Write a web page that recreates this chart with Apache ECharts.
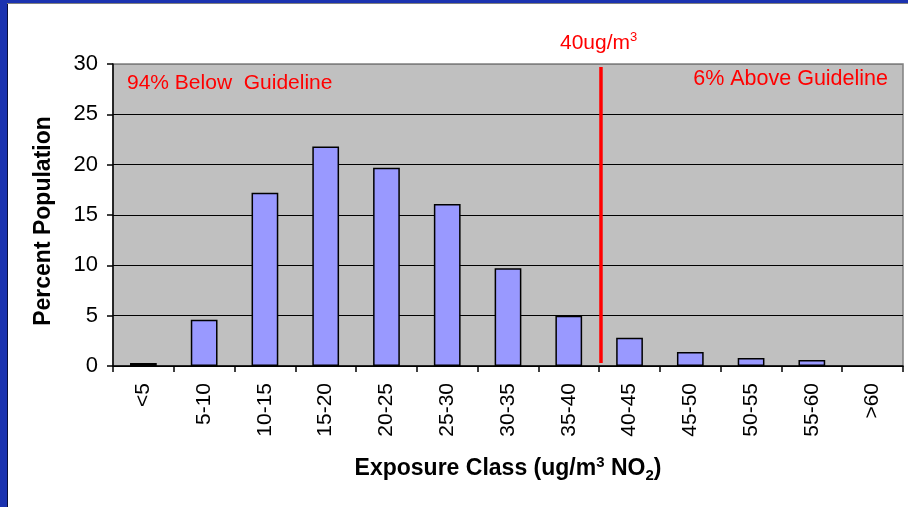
<!DOCTYPE html>
<html>
<head>
<meta charset="utf-8">
<script src="https://cdn.jsdelivr.net/npm/echarts@6/dist/echarts.min.js"></script>
<style>
  html, body { margin: 0; padding: 0; background: #ffffff; }
  #chart { width: 908px; height: 507px; }
</style>
</head>
<body>
<div id="chart"></div>
<script>
// Exposure classes (ug/m3 NO2) and share of population in each
const categories = ['<5', '5-10', '10-15', '15-20', '20-25', '25-30', '30-35', '35-40', '40-45', '45-50', '50-55', '55-60', '>60'];
const percentPopulation = [0.3, 4.6, 17.2, 21.8, 19.7, 16.1, 9.7, 5.0, 2.8, 1.4, 0.8, 0.6, 0];
const yTicks = [0, 5, 10, 15, 20, 25, 30];
// Guideline position on the class scale (boundary between 35-40 and 40-45)
const guidelinePos = 8.03;
const guidelineSpan = [0.3, 29.7];

const FONT = 'Liberation Sans, Arial, sans-serif';
const chart = echarts.init(document.getElementById('chart'), null, { renderer: 'canvas' });

// empty classes get no outline
const barData = percentPopulation.map(v => v > 0 ? v : { value: v, itemStyle: { borderWidth: 0 } });

chart.setOption({
  backgroundColor: '#ffffff',
  animation: false,
  grid: {
    left: 113, top: 64, right: 5, bottom: 141,
    show: true, backgroundColor: '#c0c0c0', borderColor: '#808080', borderWidth: 1.5
  },
  xAxis: [{
    type: 'category',
    data: categories,
    boundaryGap: true,
    axisLine: { show: true, lineStyle: { color: '#000', width: 1.5 } },
    axisTick: { show: true, length: 6, lineStyle: { color: '#000', width: 1.5 } },
    axisLabel: { rotate: 90, fontSize: 21, fontFamily: FONT, color: '#000', margin: 17, interval: 0 },
    name: 'Exposure Class (ug/m{sup|3} NO{sub|2})',
    nameLocation: 'middle',
    nameGap: 89,
    nameTextStyle: {
      fontSize: 23, fontWeight: 'bold', fontFamily: FONT, color: '#000', lineHeight: 28,
      rich: {
        sup: { fontSize: 15, fontWeight: 'bold', fontFamily: FONT, color: '#000', verticalAlign: 'top', lineHeight: 15 },
        sub: { fontSize: 15, fontWeight: 'bold', fontFamily: FONT, color: '#000', verticalAlign: 'bottom', lineHeight: 15 }
      }
    }
  }, {
    type: 'value',
    min: 0, max: categories.length,
    show: false
  }],
  yAxis: {
    type: 'value',
    min: yTicks[0], max: yTicks[yTicks.length - 1], interval: 5,
    axisLine: { show: true, lineStyle: { color: '#000', width: 1.5 } },
    axisTick: { show: true, length: 6, lineStyle: { color: '#000', width: 1.5 } },
    axisLabel: { fontSize: 22, fontFamily: FONT, color: '#000', margin: 15 },
    splitLine: { show: true, lineStyle: { color: ['#000', '#000', '#000', '#000', '#000', '#000', '#808080'], width: 1.2 } }
  },
  series: [{
    type: 'bar',
    data: barData,
    barWidth: '44%',
    itemStyle: { color: '#9999ff', borderColor: '#000', borderWidth: 1.5 }
  }, {
    type: 'line',
    xAxisIndex: 1,
    data: [[guidelinePos, guidelineSpan[0]], [guidelinePos, guidelineSpan[1]]],
    symbol: 'none',
    lineStyle: { color: '#ff0000', width: 3.5 },
    z: 5
  }],
  graphic: [
    // blue frame along the left and top edges
    { type: 'rect', left: 0, top: 0, shape: { width: 7, height: 507 }, style: { fill: '#1b33b0' } },
    { type: 'rect', left: 0, top: 0, shape: { width: 908, height: 3 }, style: { fill: '#1b33b0' } },
    { type: 'rect', left: 7, top: 3, shape: { width: 1, height: 504 }, style: { fill: '#0a0f3a' } },
    { type: 'rect', left: 7, top: 3, shape: { width: 901, height: 1 }, style: { fill: '#808080' } },
    {
      type: 'text', x: 44, y: 221, rotation: Math.PI / 2,
      style: { text: 'Percent Population', fontSize: 23, fontWeight: 'bold', fontFamily: FONT, fill: '#000', align: 'center', verticalAlign: 'middle' }
    },
    {
      type: 'text', x: 127, y: 83,
      style: { text: '94% Below  Guideline', fontSize: 21, fontFamily: FONT, fill: '#ff0000', align: 'left', verticalAlign: 'middle' }
    },
    {
      type: 'text', x: 888, y: 79,
      style: { text: '6% Above Guideline', fontSize: 21.5, fontFamily: FONT, fill: '#ff0000', align: 'right', verticalAlign: 'middle' }
    },
    {
      type: 'text', x: 560, y: 43,
      style: {
        text: '40ug/m{sup|3}', fontSize: 21, fontFamily: FONT, fill: '#ff0000', align: 'left', verticalAlign: 'middle', lineHeight: 24,
        rich: { sup: { fontSize: 13, fontFamily: FONT, fill: '#ff0000', verticalAlign: 'top', lineHeight: 13 } }
      }
    }
  ]
});
</script>
</body>
</html>
